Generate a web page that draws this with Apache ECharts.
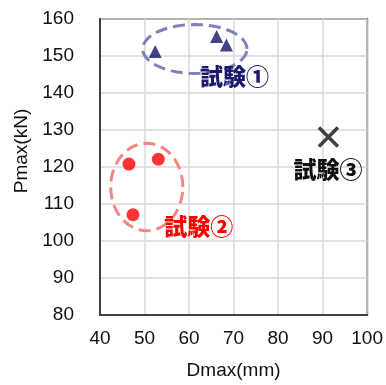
<!DOCTYPE html>
<html>
<head>
<meta charset="utf-8">
<script src="https://cdn.jsdelivr.net/npm/echarts@6/dist/echarts.min.js"></script>
<style>
  html, body { margin: 0; padding: 0; background: #fff; }
  #chart { width: 386px; height: 385px; }
</style>
</head>
<body>
<div id="chart"></div>
<script>
// Axis ranges
const xRange = [40, 100];
const yRange = [80, 160];

// Test results: [Dmax (mm), Pmax (kN)]
const test1 = [[52.4, 151.2], [66.2, 155.3], [68.4, 153.0]];
const test2 = [[46.5, 120.8], [53.1, 122.1], [47.4, 107.1]];
const test3 = [[91.3, 128.1]];

// Group outlines: [centre x, centre y, radius x, radius y, colour] in data units
const groupOutlines = [
  [61.3, 151.9, 11.7, 6.6, '#8080b8'],
  [50.5, 114.6, 8.1, 11.8, '#f28585']
];

// Group labels: [x, y, text, colour]
const groupLabels = [
  [70.2, 144.4, '試験①', '#1a1a6e'],
  [62.2, 103.9, '試験②', '#ff0000'],
  [91.2, 119.5, '試験③', '#111111']
];

const font = '"Liberation Sans", Arial, sans-serif';
const chart = echarts.init(document.getElementById('chart'), null, { renderer: 'canvas' });

chart.setOption({
  animation: false,
  grid: { left: 100, right: 15, top: 19, bottom: 68, show: true, borderColor: '#404040', borderWidth: 2 },
  xAxis: {
    type: 'value', min: xRange[0], max: xRange[1], interval: 10,
    name: 'Dmax(mm)', nameLocation: 'middle', nameGap: 46,
    nameTextStyle: { fontFamily: font, fontSize: 19, color: '#111' },
    axisLine: { show: true, lineStyle: { color: '#404040', width: 2 } },
    axisTick: { show: false },
    axisLabel: { fontFamily: font, fontSize: 19, color: '#111', margin: 14 },
    splitLine: { show: true, lineStyle: { color: '#d9d9d9', width: 1.5 } }
  },
  yAxis: {
    type: 'value', min: yRange[0], max: yRange[1], interval: 10,
    axisLine: { show: true, lineStyle: { color: '#404040', width: 2 } },
    axisTick: { show: false },
    axisLabel: { fontFamily: font, fontSize: 19, color: '#111', margin: 26 },
    splitLine: { show: true, lineStyle: { color: '#d9d9d9', width: 1.5 } }
  },
  graphic: [{
    type: 'text', x: 22, y: 151, rotation: Math.PI / 2,
    style: { text: 'Pmax(kN)', font: '19px ' + font, fill: '#111', align: 'center', verticalAlign: 'middle' }
  }],
  series: [
    {
      type: 'custom', z: 1, silent: true,
      data: groupOutlines,
      renderItem: function (params, api) {
        const d = groupOutlines[params.dataIndex];
        const pts = [];
        for (let i = 0; i <= 72; i++) {
          const t = i / 72 * Math.PI * 2;
          pts.push(api.coord([d[0] + d[2] * Math.cos(t), d[1] + d[3] * Math.sin(t)]));
        }
        return {
          type: 'polygon', shape: { points: pts },
          style: { fill: 'none', stroke: d[4], lineWidth: 3, lineDash: [12, 6] }
        };
      }
    },
    {
      type: 'scatter', data: test1, symbol: 'triangle', symbolSize: 13, z: 3,
      itemStyle: { color: '#14146a' }
    },
    {
      type: 'scatter', data: test2, symbol: 'circle', symbolSize: 13, z: 3,
      itemStyle: { color: '#ff0000' }
    },
    {
      type: 'scatter', data: test3, symbol: 'path://M0,0L10,10M10,0L0,10', symbolSize: 19, z: 3,
      itemStyle: { color: 'none', borderColor: '#111', borderWidth: 3.5 }
    },
    {
      type: 'custom', z: 4, silent: true,
      data: groupLabels,
      renderItem: function (params, api) {
        const d = groupLabels[params.dataIndex];
        const p = api.coord([d[0], d[1]]);
        return {
          type: 'text', x: p[0], y: p[1],
          style: { text: d[2], fill: d[3], font: '900 23px "Noto Sans CJK JP", sans-serif', align: 'center', verticalAlign: 'middle' }
        };
      }
    }
  ]
});
</script>
</body>
</html>
